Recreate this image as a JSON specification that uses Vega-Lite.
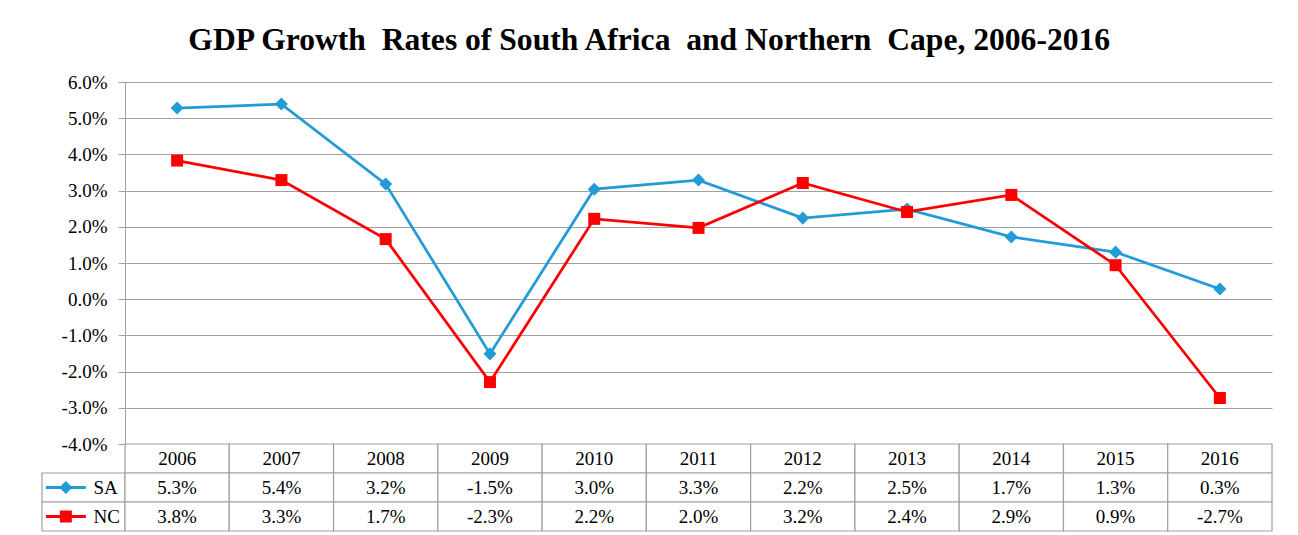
{
  "$schema": "https://vega.github.io/schema/vega-lite/v6.json",
  "background": "white",
  "padding": {"left": 39, "top": 25, "right": 29, "bottom": 0},
  "title": {
    "text": "GDP Growth\u00a0 Rates of South Africa\u00a0 and Northern\u00a0 Cape, 2006-2016",
    "font": "Liberation Serif, Times New Roman, serif",
    "fontSize": 31.6,
    "fontWeight": "bold",
    "color": "#000000",
    "anchor": "middle",
    "dx": -7,
    "offset": 16
  },
  "datasets": {
    "gdp": [
      {"year": "2006", "series": "SA", "value": 5.28},
      {"year": "2007", "series": "SA", "value": 5.39},
      {"year": "2008", "series": "SA", "value": 3.18},
      {"year": "2009", "series": "SA", "value": -1.51},
      {"year": "2010", "series": "SA", "value": 3.04},
      {"year": "2011", "series": "SA", "value": 3.29},
      {"year": "2012", "series": "SA", "value": 2.24},
      {"year": "2013", "series": "SA", "value": 2.49},
      {"year": "2014", "series": "SA", "value": 1.72},
      {"year": "2015", "series": "SA", "value": 1.30},
      {"year": "2016", "series": "SA", "value": 0.28},
      {"year": "2006", "series": "NC", "value": 3.83},
      {"year": "2007", "series": "NC", "value": 3.29},
      {"year": "2008", "series": "NC", "value": 1.66},
      {"year": "2009", "series": "NC", "value": -2.29},
      {"year": "2010", "series": "NC", "value": 2.22},
      {"year": "2011", "series": "NC", "value": 1.97},
      {"year": "2012", "series": "NC", "value": 3.21},
      {"year": "2013", "series": "NC", "value": 2.41},
      {"year": "2014", "series": "NC", "value": 2.88},
      {"year": "2015", "series": "NC", "value": 0.94},
      {"year": "2016", "series": "NC", "value": -2.73}
    ]
  },
  "columns": 2,
  "spacing": 0,
  "bounds": "flush",
  "concat": [
    {
      "width": 83,
      "height": 362,
      "data": {"values": [{}]},
      "mark": {"type": "text", "text": ""},
      "encoding": {}
    },
    {
      "width": 1147,
      "height": 362,
      "data": {"name": "gdp"},
      "encoding": {
        "x": {"field": "year", "type": "ordinal", "scale": {"type": "point", "padding": 0.5}, "axis": null},
        "y": {
          "field": "value",
          "type": "quantitative",
          "scale": {"domain": [-4, 6], "nice": false, "zero": false},
          "axis": {
            "title": null,
            "values": [-4, -3, -2, -1, 0, 1, 2, 3, 4, 5, 6],
            "labelExpr": "(datum.value < 0 ? '-' : '') + format(abs(datum.value), '.1f') + '%'",
            "labelFont": "Liberation Serif, Times New Roman, serif",
            "labelFontSize": 19,
            "labelColor": "#000000",
            "labelPadding": 11,
            "tickSize": 7,
            "tickColor": "#a0a0a0",
            "domainColor": "#a0a0a0",
            "gridColor": "#a0a0a0",
            "gridWidth": 1.2,
            "grid": true
          }
        },
        "color": {
          "field": "series",
          "type": "nominal",
          "scale": {"domain": ["SA", "NC"], "range": ["#229bd6", "#ff0000"]},
          "legend": null
        }
      },
      "layer": [
        {"mark": {"type": "line", "strokeWidth": 2.75}},
        {
          "mark": {"type": "point", "filled": true, "opacity": 1},
          "encoding": {
            "shape": {"field": "series", "type": "nominal", "scale": {"domain": ["SA", "NC"], "range": ["diamond", "square"]}, "legend": null},
            "size": {"field": "series", "type": "nominal", "scale": {"domain": ["SA", "NC"], "range": [170, 144]}, "legend": null}
          }
        }
      ]
    },
    {
      "width": 83,
      "height": 87,
      "data": {"name": "gdp"},
      "transform": [{"filter": "datum.year == '2006'"}],
      "encoding": {
        "y": {"field": "series", "type": "nominal", "scale": {"domain": ["Year", "SA", "NC"], "type": "band", "paddingInner": 0, "paddingOuter": 0}, "axis": null}
      },
      "layer": [
        {"mark": {"type": "rect", "fill": "white", "stroke": "#a0a0a0", "strokeWidth": 1.2}},
        {
          "mark": {"type": "point", "filled": false, "shape": "M-1,0L1,0", "size": 1600, "strokeWidth": 3, "opacity": 1},
          "encoding": {
            "x": {"datum": "sym", "type": "nominal", "scale": {"type": "point", "domain": ["sym", "label"], "padding": 1.16, "align": 0.431}, "axis": null},
            "color": {"field": "series", "type": "nominal", "scale": {"domain": ["SA", "NC"], "range": ["#229bd6", "#ff0000"]}, "legend": null}
          }
        },
        {
          "mark": {"type": "point", "filled": true, "opacity": 1},
          "encoding": {
            "x": {"datum": "sym", "type": "nominal"},
            "color": {"field": "series", "type": "nominal", "legend": null},
            "shape": {"field": "series", "type": "nominal", "scale": {"domain": ["SA", "NC"], "range": ["diamond", "square"]}, "legend": null},
            "size": {"field": "series", "type": "nominal", "scale": {"domain": ["SA", "NC"], "range": [110, 130]}, "legend": null}
          }
        },
        {
          "mark": {"type": "text", "align": "left", "baseline": "middle", "font": "Liberation Serif, Times New Roman, serif", "fontSize": 19, "color": "#000000"},
          "encoding": {
            "x": {"datum": "label", "type": "nominal"},
            "text": {"field": "series", "type": "nominal"}
          }
        }
      ]
    },
    {
      "width": 1147,
      "height": 87,
      "data": {"name": "gdp"},
      "transform": [
        {"calculate": "(datum.value < 0 ? '-' : '') + format(abs(datum.value), '.1f') + '%'", "as": "label"}
      ],
      "encoding": {
        "x": {"field": "year", "type": "ordinal", "scale": {"type": "band", "paddingInner": 0, "paddingOuter": 0}, "axis": null}
      },
      "layer": [
        {
          "transform": [{"filter": "datum.series == 'SA'"}],
          "mark": {"type": "rect", "fill": "white", "stroke": "#a0a0a0", "strokeWidth": 1.2},
          "encoding": {
            "y": {"datum": "Year", "type": "nominal", "scale": {"domain": ["Year", "SA", "NC"], "type": "band", "paddingInner": 0, "paddingOuter": 0}, "axis": null}
          }
        },
        {
          "transform": [{"filter": "datum.series == 'SA'"}],
          "mark": {"type": "text", "baseline": "middle", "font": "Liberation Serif, Times New Roman, serif", "fontSize": 19, "color": "#000000"},
          "encoding": {
            "y": {"datum": "Year", "type": "nominal"},
            "text": {"field": "year", "type": "nominal"}
          }
        },
        {
          "mark": {"type": "rect", "fill": "white", "stroke": "#a0a0a0", "strokeWidth": 1.2},
          "encoding": {
            "y": {"field": "series", "type": "nominal"}
          }
        },
        {
          "mark": {"type": "text", "baseline": "middle", "font": "Liberation Serif, Times New Roman, serif", "fontSize": 19, "color": "#000000"},
          "encoding": {
            "y": {"field": "series", "type": "nominal"},
            "text": {"field": "label", "type": "nominal"}
          }
        }
      ]
    }
  ],
  "config": {
    "view": {"stroke": null},
    "font": "Liberation Serif, Times New Roman, serif"
  }
}
